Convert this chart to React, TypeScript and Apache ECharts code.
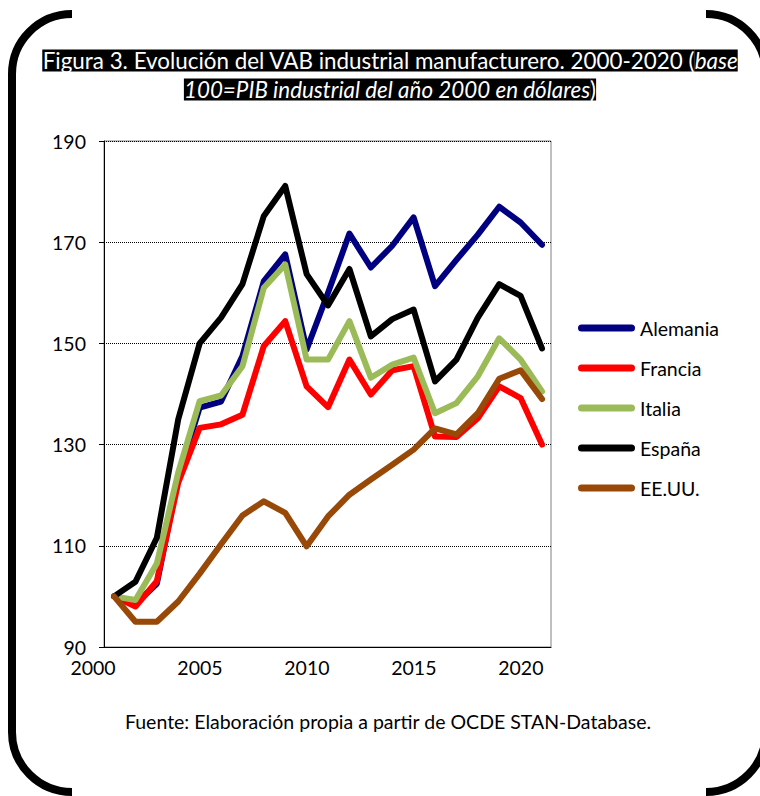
import React, { useEffect, useRef } from "react";
import * as echarts from "echarts";

const years = [2001, 2002, 2003, 2004, 2005, 2006, 2007, 2008, 2009, 2010, 2011, 2012, 2013, 2014, 2015, 2016, 2017, 2018, 2019, 2020, 2021];

const alemania = [100, 98.5, 102.5, 123.5, 137.3, 138.5, 147.5, 162.3, 167.6, 148.8, 160, 171.7, 165, 169.3, 174.9, 161.3, 166.5, 171.5, 177, 173.9, 169.5];
const francia = [100, 98, 103, 122.5, 133.3, 134, 135.9, 149.5, 154.4, 141.5, 137.4, 146.8, 139.9, 144.7, 145.5, 131.6, 131.5, 135.2, 141.5, 139.2, 130];
const italia = [100, 99.3, 106.5, 124.5, 138.6, 139.7, 145.5, 161, 165.6, 146.8, 146.8, 154.4, 143.2, 145.8, 147.2, 136.2, 138.2, 143.5, 151, 146.8, 140.5];
const espana = [100, 102.9, 111.6, 135, 150, 155.1, 161.7, 175.2, 181.1, 163.7, 157.5, 164.7, 151.4, 154.8, 156.7, 142.5, 146.8, 155.1, 161.7, 159.4, 149];
const eeuu = [100, 95, 95, 99, 104.5, 110.3, 116, 118.8, 116.5, 109.9, 115.8, 120.1, 123.1, 126, 129, 133.2, 132, 136.2, 143, 144.7, 139];

const seriesNames = ["Alemania", "Francia", "Italia", "España", "EE.UU."];
const seriesValues = [alemania, francia, italia, espana, eeuu];
const seriesColors = ["#000080", "#FF0000", "#9BBB59", "#000000", "#984807"];

const titleLine1 = "Figura 3. Evolución del VAB industrial manufacturero. 2000-2020 (";
const titleLine1Italic = "base";
const titleLine2Italic = "100=PIB industrial del año 2000 en dólares";
const titleLine2End = ")";
const sourceText = "Fuente: Elaboración propia a partir de OCDE STAN-Database.";

const FONT = "Lato";

echarts.graphic.registerShape(
  "bracketLeft",
  echarts.graphic.extendPath("M72,14 A60,60 0 0 0 12,74 L12,732 A60,60 0 0 0 72,792", {})
);
echarts.graphic.registerShape(
  "bracketRight",
  echarts.graphic.extendPath("M706,14 A60,60 0 0 1 766,74 L766,732 A60,60 0 0 1 706,792", {})
);

export default function App() {
  const ref = useRef<HTMLDivElement>(null);
  useEffect(() => {
    if (!ref.current) return;
    const chart = echarts.init(ref.current, null, { renderer: "svg" });
    const titleStyle = {
      color: "#fff",
      backgroundColor: "#000",
      fontSize: 22.4,
      fontWeight: "normal",
      fontFamily: FONT,
      lineHeight: 29,
    };
    chart.setOption({
      animation: false,
      backgroundColor: "#fff",
      title: {
        left: 390,
        top: 46,
        padding: 0,
        textAlign: "center",
        text: `{n|${titleLine1}}{i|${titleLine1Italic}}\n{i|${titleLine2Italic}}{n|${titleLine2End}}`,
        textStyle: {
          fontWeight: "normal",
          rich: {
            n: { ...titleStyle },
            i: { ...titleStyle, fontStyle: "italic" },
          },
        },
      },
      legend: {
        orient: "vertical",
        left: 578,
        top: 318,
        padding: 0,
        itemWidth: 57,
        itemHeight: 7,
        itemGap: 20,
        icon: "path://M3.5,0 L53.5,0 A3.5,3.5 0 0 1 53.5,7 L3.5,7 A3.5,3.5 0 0 1 3.5,0 Z",
        textStyle: { fontSize: 19.5, fontFamily: FONT, color: "#000", lineHeight: 20 },
        data: seriesNames,
      },
      grid: [
        { left: 104, right: 209, top: 141, bottom: 149, show: true, borderColor: "#808080", borderWidth: 1 },
        { left: 93, right: 209, top: 141, bottom: 149 },
      ],
      xAxis: [
        {
          type: "value",
          gridIndex: 0,
          min: 2000.53,
          max: 2021.42,
          axisLine: { show: true, lineStyle: { color: "#000", width: 1 } },
          axisTick: { show: false },
          axisLabel: { show: false },
          splitLine: { show: false },
        },
        {
          type: "value",
          gridIndex: 1,
          min: 2000,
          max: 2021.41,
          interval: 5,
          axisLine: { show: false },
          axisTick: { show: false },
          splitLine: { show: false },
          axisLabel: {
            show: true,
            showMaxLabel: false,
            margin: 10,
            fontSize: 19.5,
            fontFamily: FONT,
            color: "#000",
            formatter: (v: number) => (Math.abs(v % 5) < 1e-6 ? String(v) : ""),
          },
        },
      ],
      yAxis: [
        {
          type: "value",
          gridIndex: 0,
          min: 90,
          max: 190,
          interval: 20,
          axisLine: { show: true, lineStyle: { color: "#000", width: 1 } },
          axisTick: { show: true, length: 5, inside: false, lineStyle: { color: "#000" } },
          axisLabel: { margin: 18, fontSize: 19.5, fontFamily: FONT, color: "#000" },
          splitLine: { show: true, lineStyle: { color: "#000", type: "dotted", width: 1 } },
        },
        { type: "value", gridIndex: 1, show: false, min: 90, max: 190 },
      ],
      series: seriesNames.map((name, k) => ({
        name,
        type: "line",
        xAxisIndex: 0,
        yAxisIndex: 0,
        data: years.map((y, i) => [y, seriesValues[k][i]]),
        showSymbol: false,
        symbol: "none",
        color: seriesColors[k],
        lineStyle: { width: 6, color: seriesColors[k], cap: "round", join: "round" },
      })),
      graphic: [
        { type: "bracketLeft", x: 0, y: 0, style: { stroke: "#000", lineWidth: 8, fill: null } },
        { type: "bracketRight", x: 0, y: 0, style: { stroke: "#000", lineWidth: 8, fill: null } },
        {
          type: "text",
          x: 388,
          y: 721,
          style: {
            text: sourceText,
            fontSize: 19.5,
            fontFamily: FONT,
            fill: "#000",
            align: "center",
            verticalAlign: "middle",
          },
        },
      ],
    });
    return () => chart.dispose();
  }, []);
  return (
    <div
      ref={ref}
      style={{ position: "fixed", left: 0, top: 0, width: 760, height: 796 }}
    />
  );
}
